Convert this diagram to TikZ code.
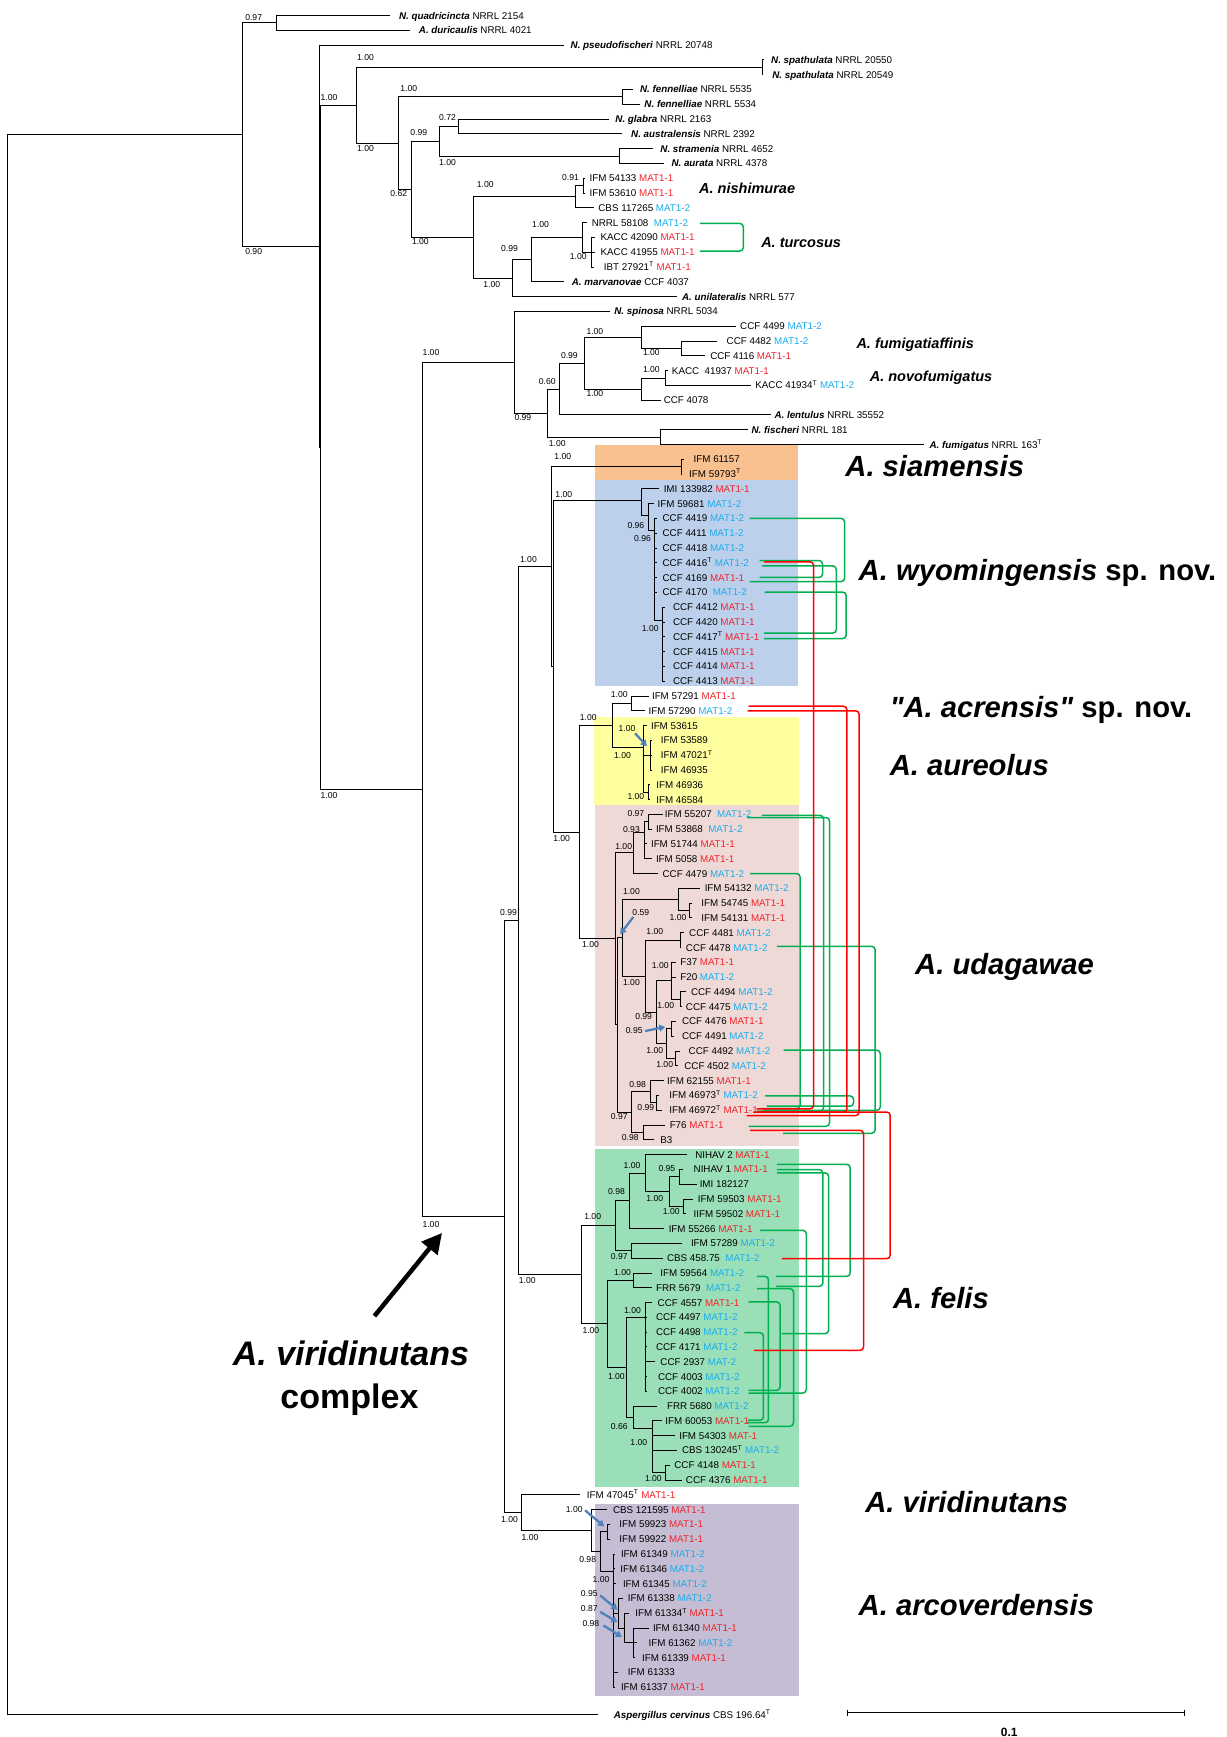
\documentclass[tikz,border=0pt]{standalone}
\usepackage{fontspec}
\setmainfont{Liberation Sans}
\newfontfamily\qfont{Liberation Sans}
\usetikzlibrary{arrows.meta}
\definecolor{matred}{HTML}{F0242B}
\definecolor{matblue}{HTML}{1AADEB}
\definecolor{cgreen}{HTML}{00B050}
\definecolor{cred}{HTML}{FF0000}
\definecolor{bxor}{HTML}{F9C18F}
\definecolor{bxbl}{HTML}{BCD0EC}
\definecolor{bxye}{HTML}{FFFF9F}
\definecolor{bxpk}{HTML}{EFD9D7}
\definecolor{bxgr}{HTML}{9ADFB8}
\definecolor{bxpu}{HTML}{C4BDD3}
\definecolor{arrblue}{HTML}{4F81BD}
\newcommand{\MOne}{\textcolor{matred}{MAT1-1}}
\newcommand{\MTwo}{\textcolor{matblue}{MAT1-2}}
\newcommand{\Tsup}{\textsuperscript{T}}
\newcommand{\bi}[1]{\textbf{\textit{#1}}}
\newcommand{\Nd}[3]{\coordinate (#1) at (#2,{14+13.354*(#3)});}
\newcommand{\Lf}[4]{\coordinate (t#1) at (#2,{14+13.354*(#1)});\node[leaf] (L#1) at (#3,{14+13.354*(#1)}) {#4};}
\newcommand{\Brs}[2]{\foreach \chn in {#2} {\draw[tree] (#1) |- (\chn);}}
\newcounter{svc}
\newcommand{\Sv}[3]{\stepcounter{svc}\node[sv] (sv\arabic{svc}) at (#1,#2) {#3};}
\newcommand{\Con}[7]{\coordinate (#1a) at (#3,#4);\coordinate (#1b) at (#6,#7);\draw[#2] (#1a) -- (#5,#4) -- (#5,#7) -- (#1b);}
\newcommand{\Barr}[5]{\coordinate (#1a) at (#2,#3);\coordinate (#1b) at (#4,#5);\draw[barrow] (#1a) -- (#1b);}
\begin{document}
\begin{tikzpicture}[x=1.1075pt,y=-1.1075pt,
  tree/.style={line width=0.9pt,black},
  leaf/.style={font=\fontsize{9.8}{10}\selectfont,inner sep=0pt,anchor=base west,yshift=-3.5pt},
  sv/.style={font=\fontsize{8.6}{9}\selectfont,inner sep=0pt,anchor=center},
  splab/.style={font=\fontsize{29.2}{30}\selectfont\bfseries,inner sep=0pt,anchor=base west,yshift=-10.4pt},
  smlab/.style={font=\fontsize{14.5}{16}\selectfont\bfseries\itshape,inner sep=0pt,anchor=base west,yshift=-5.2pt},
  gline/.style={cgreen,line width=1.5pt,rounded corners=3.5pt},
  rline/.style={cred,line width=1.5pt,rounded corners=3.5pt},
  barrow/.style={arrblue,line width=2.3pt,-{Triangle[length=6pt,width=7pt]}}]
\fill[white] (0,0) rectangle (1107,1568);
\useasboundingbox (0,0) rectangle (1107,1568);
% clade boxes
\fill[bxor] (537,402) rectangle (720,433);
\fill[bxbl] (537,433) rectangle (720,619.5);
\fill[bxye] (536.5,647.5) rectangle (721.5,727);
\fill[bxpk] (537,727) rectangle (721.5,1034.5);
\fill[bxgr] (537,1037) rectangle (721.5,1342.4);
\fill[bxpu] (537,1357.4) rectangle (721.5,1531);
% internal nodes
\Nd{R}{7}{61.46}
\Nd{A}{219}{8.05}
\Nd{Q}{250}{0.5}
\Nd{B}{288}{15.6}
\Nd{Bp}{289.5}{29.19}
\Nd{C}{322}{6.0625}
\Nd{S}{688}{3.5}
\Nd{P}{359.5}{8.625}
\Nd{FeN}{561.5}{5.5}
\Nd{P2}{371}{11.75}
\Nd{GA}{397}{8.5}
\Nd{Gl}{413.6}{7.5}
\Nd{St}{559.5}{9.5}
\Nd{N}{427.4}{15}
\Nd{nish}{519.2}{12.25}
\Nd{nishs}{526.7}{11.5}
\Nd{U}{462.6}{17.75}
\Nd{T}{480}{16.5}
\Nd{turc}{526.1}{15}
\Nd{Ks}{534.2}{16}
\Nd{D}{381}{52.32}
\Nd{F0}{464}{23.4375}
\Nd{F1}{494}{26.875}
\Nd{F2}{505}{25.25}
\Nd{F3}{528}{23.5}
\Nd{F4}{579}{21.75}
\Nd{F4s}{615}{22.5}
\Nd{Fnov}{579}{25.25}
\Nd{Kc}{600.5}{24.5}
\Nd{Fis}{596.4}{28.5}
\Nd{K}{455}{81.2}
\Nd{K1}{468}{61.19}
\Nd{M1}{498}{37.25}
\Nd{Siam}{615}{30.5}
\Nd{M1p}{499.5}{44.0}
\Nd{W1}{579}{32.8}
\Nd{W2}{585}{33.77}
\Nd{W3}{590.6}{34.79}
\Nd{W4}{598}{40.87}
\Nd{M3}{523}{55.21}
\Nd{Acp}{553}{48}
\Nd{Acr}{570}{46.5}
\Nd{Au}{580.7}{49.5}
\Nd{Au1}{587.5}{50}
\Nd{Au2}{585}{52.5}
\Nd{Ud}{555.3}{62.42}
\Nd{Ua}{571.9}{56.6}
\Nd{Ub}{581.5}{55.2}
\Nd{Uc}{585.4}{54.5}
\Nd{Udp}{557.5}{68.23}
\Nd{U59}{562.2}{62.34}
\Nd{U54}{612.5}{59.75}
\Nd{U54b}{622.4}{60.5}
\Nd{U81}{582.4}{64.94}
\Nd{U4481}{614}{62.5}
\Nd{Ux}{593}{67.375}
\Nd{Uff}{606.5}{65.25}
\Nd{U94}{614}{66.5}
\Nd{Ug}{602}{69.5}
\Nd{Ug1}{606.5}{68.5}
\Nd{Ug2}{609.5}{70.5}
\Nd{Bcl}{570.4}{74.125}
\Nd{Ba}{587}{72.75}
\Nd{Bb}{593}{73.5}
\Nd{Bc}{580.9}{75.5}
\Nd{Fel}{525}{85.125}
\Nd{fla}{555.3}{81.81}
\Nd{flb}{568}{80.125}
\Nd{flc}{582.4}{78.25}
\Nd{fld}{604.4}{79.5}
\Nd{fle}{613.4}{78.5}
\Nd{flf}{617}{80.5}
\Nd{flg}{570.4}{83.5}
\Nd{flh}{548.4}{88.44}
\Nd{fli}{571.9}{85.5}
\Nd{flj}{565.8}{91.375}
\Nd{flk}{582.4}{88}
\Nd{fll}{571.9}{94.75}
\Nd{flm}{589.3}{95.5}
\Nd{fln}{600.5}{98.5}
\Nd{K2}{471}{101.21}
\Nd{Arc}{534.2}{102.43}
\Nd{Arc2}{542.4}{103.85}
\Nd{Arc3}{548.4}{102.5}
\Nd{Arc4}{553.8}{105.2}
\Nd{Arc5}{558.3}{108}
\Nd{Arc6}{563.4}{109}
\Nd{Arc7}{571.9}{110}
% leaves
\Lf{0}{352}{360}{\bi{N. quadricincta} NRRL 2154}
\Lf{1}{370}{378}{\bi{A. duricaulis} NRRL 4021}
\Lf{2}{509}{515}{\bi{N. pseudofischeri} NRRL 20748}
\Lf{3}{690}{696}{\bi{N. spathulata} NRRL 20550}
\Lf{4}{689}{697}{\bi{N. spathulata} NRRL 20549}
\Lf{5}{571.6}{577.6}{\bi{N. fennelliae} NRRL 5535}
\Lf{6}{577.6}{581.6}{\bi{N. fennelliae} NRRL 5534}
\Lf{7}{549.4}{555.4}{\bi{N. glabra} NRRL 2163}
\Lf{8}{561.5}{569.6}{\bi{N. australensis} NRRL 2392}
\Lf{9}{589.6}{596}{\bi{N. stramenia} NRRL 4652}
\Lf{10}{599.5}{606}{\bi{N. aurata} NRRL 4378}
\Lf{11}{528}{532}{IFM 54133 \MOne}
\Lf{12}{528}{532}{IFM 53610 \MOne}
\Lf{13}{536}{540}{CBS 117265 \MTwo}
\Lf{14}{530}{534}{NRRL 58108\ \ \MTwo}
\Lf{15}{537}{542}{KACC 42090 \MOne}
\Lf{16}{537}{542}{KACC 41955 \MOne}
\Lf{17}{536}{545}{IBT 27921\Tsup{} \MOne}
\Lf{18}{509}{516}{\bi{A. marvanovae} CCF 4037}
\Lf{19}{611}{615.5}{\bi{A. unilateralis} NRRL 577}
\Lf{20}{550.4}{554.4}{\bi{N. spinosa} NRRL 5034}
\Lf{21}{664.6}{668}{CCF 4499 \MTwo}
\Lf{22}{647}{655.8}{CCF 4482 \MTwo}
\Lf{23}{636.8}{641}{CCF 4116 \MOne}
\Lf{24}{603}{606.4}{KACC\ \ 41937 \MOne}
\Lf{25}{678.3}{681.7}{KACC 41934\Tsup{} \MTwo}
\Lf{26}{597}{599}{CCF 4078}
\Lf{27}{695.6}{699}{\bi{A. lentulus} NRRL 35552}
\Lf{28}{674.8}{678.3}{\bi{N. fischeri} NRRL 181}
\Lf{29}{833.8}{839}{\bi{A. fumigatus} NRRL 163\Tsup}
\Lf{30}{617}{626}{IFM 61157}
\Lf{31}{615.5}{622}{IFM 59793\Tsup}
\Lf{32}{595.3}{599}{IMI 133982 \MOne}
\Lf{33}{590.5}{593.5}{IFM 59681 \MTwo}
\Lf{34}{593}{598}{CCF 4419 \MTwo}
\Lf{35}{593}{598}{CCF 4411 \MTwo}
\Lf{36}{593}{598}{CCF 4418 \MTwo}
\Lf{37}{593}{598}{CCF 4416\Tsup{} \MTwo}
\Lf{38}{593}{598}{CCF 4169 \MOne}
\Lf{39}{593}{598}{CCF 4170\ \ \MTwo}
\Lf{40}{600}{607.4}{CCF 4412 \MOne}
\Lf{41}{600}{607.4}{CCF 4420 \MOne}
\Lf{42}{600}{607.4}{CCF 4417\Tsup{} \MOne}
\Lf{43}{600}{607.4}{CCF 4415 \MOne}
\Lf{44}{600}{607.4}{CCF 4414 \MOne}
\Lf{45}{600}{607.4}{CCF 4413 \MOne}
\Lf{46}{585.4}{588.4}{IFM 57291 \MOne}
\Lf{47}{582.4}{585.4}{IFM 57290 \MTwo}
\Lf{48}{584}{587.5}{IFM 53615}
\Lf{49}{589}{596.5}{IFM 53589}
\Lf{50}{589}{596.5}{IFM 47021\Tsup}
\Lf{51}{589}{596.5}{IFM 46935}
\Lf{52}{587}{592.3}{IFM 46936}
\Lf{53}{587}{592.3}{IFM 46584}
\Lf{54}{598.3}{600}{IFM 55207\ \ \MTwo}
\Lf{55}{588.4}{592}{IFM 53868\ \ \MTwo}
\Lf{56}{584}{587.5}{IFM 51744 \MOne}
\Lf{57}{588.4}{592}{IFM 5058 \MOne}
\Lf{58}{594.4}{598}{CCF 4479 \MTwo}
\Lf{59}{632}{636}{IFM 54132 \MTwo}
\Lf{60}{625}{633}{IFM 54745 \MOne}
\Lf{61}{625}{633}{IFM 54131 \MOne}
\Lf{62}{617}{622}{CCF 4481 \MTwo}
\Lf{63}{615}{619}{CCF 4478 \MTwo}
\Lf{64}{610}{614}{F37 \MOne}
\Lf{65}{610}{614}{F20 \MTwo}
\Lf{66}{619}{623.6}{CCF 4494 \MTwo}
\Lf{67}{616}{619}{CCF 4475 \MTwo}
\Lf{68}{610}{615.5}{CCF 4476 \MOne}
\Lf{69}{608}{615.5}{CCF 4491 \MTwo}
\Lf{70}{614}{621.5}{CCF 4492 \MTwo}
\Lf{71}{612}{617.6}{CCF 4502 \MTwo}
\Lf{72}{599}{602}{IFM 62155 \MOne}
\Lf{73}{595.3}{604}{IFM 46973\Tsup{} \MTwo}
\Lf{74}{597.4}{604}{IFM 46972\Tsup{} \MOne}
\Lf{75}{600.5}{604.4}{F76 \MOne}
\Lf{76}{590}{596}{B3}
\Lf{77}{620}{627.5}{NIHAV 2 \MOne}
\Lf{78}{616.4}{626}{NIHAV 1 \MOne}
\Lf{79}{629}{631.5}{IMI 182127}
\Lf{80}{625.4}{629.7}{IFM 59503 \MOne}
\Lf{81}{619}{626}{IIFM 59502 \MOne}
\Lf{82}{599}{603.5}{IFM 55266 \MOne}
\Lf{83}{615.5}{623.6}{IFM 57289 \MTwo}
\Lf{84}{598.3}{602}{CBS 458.75\ \ \MTwo}
\Lf{85}{588.4}{596}{IFM 59564 \MTwo}
\Lf{86}{588.4}{592}{FRR 5679\ \ \MTwo}
\Lf{87}{588.4}{593.5}{CCF 4557 \MOne}
\Lf{88}{584}{592}{CCF 4497 \MTwo}
\Lf{89}{584}{592}{CCF 4498 \MTwo}
\Lf{90}{584}{592}{CCF 4171 \MTwo}
\Lf{91}{591.4}{596}{CCF 2937 \textcolor{matblue}{MAT-2}}
\Lf{92}{584}{593.8}{CCF 4003 \MTwo}
\Lf{93}{584}{593.8}{CCF 4002 \MTwo}
\Lf{94}{593}{602}{FRR 5680 \MTwo}
\Lf{95}{597.4}{600.5}{IFM 60053 \MOne}
\Lf{96}{609.5}{613}{IFM 54303 \textcolor{matred}{MAT-1}}
\Lf{97}{611}{615.5}{CBS 130245\Tsup{} \MTwo}
\Lf{98}{605}{608.6}{CCF 4148 \MOne}
\Lf{99}{615.5}{619}{CCF 4376 \MOne}
\Lf{100}{523.7}{529.7}{IFM 47045\Tsup{} \MOne}
\Lf{101}{547.8}{553.2}{CBS 121595 \MOne}
\Lf{102}{550.8}{559}{IFM 59923 \MOne}
\Lf{103}{550.8}{559}{IFM 59922 \MOne}
\Lf{104}{555.3}{560.4}{IFM 61349 \MTwo}
\Lf{105}{555.3}{559.8}{IFM 61346 \MTwo}
\Lf{106}{556.5}{562.2}{IFM 61345 \MTwo}
\Lf{107}{562.8}{566.7}{IFM 61338 \MTwo}
\Lf{108}{567.4}{573.4}{IFM 61334\Tsup{} \MOne}
\Lf{109}{585.4}{589.3}{IFM 61340 \MOne}
\Lf{110}{575}{585.4}{IFM 61362 \MTwo}
\Lf{111}{573.4}{579.4}{IFM 61339 \MOne}
\Lf{112}{558.3}{566.7}{IFM 61333}
\Lf{113}{555.3}{560.4}{IFM 61337 \MOne}
\coordinate (tcv) at (540,1548);
\node[leaf] (Lcv) at (554,1548) {\bi{Aspergillus cervinus} CBS 196.64\Tsup};
% branches
\Brs{R}{A,tcv}
\Brs{A}{Q,B}
\Brs{Q}{t0,t1}
\Brs{B}{t2,Bp}
\Brs{Bp}{C,D}
\Brs{C}{S,P}
\Brs{S}{t3,t4}
\Brs{P}{FeN,P2}
\Brs{FeN}{t5,t6}
\Brs{P2}{GA,N}
\Brs{GA}{Gl,St}
\Brs{Gl}{t7,t8}
\Brs{St}{t9,t10}
\Brs{N}{nish,U}
\Brs{nish}{nishs,t13}
\Brs{nishs}{t11,t12}
\Brs{U}{T,t19}
\Brs{T}{turc,t18}
\Brs{turc}{t14,Ks}
\Brs{Ks}{t15,t16,t17}
\Brs{D}{F0,K}
\Brs{F0}{t20,F1}
\Brs{F1}{F2,Fis}
\Brs{F2}{F3,t27}
\Brs{F3}{F4,Fnov}
\Brs{F4}{t21,F4s}
\Brs{F4s}{t22,t23}
\Brs{Fnov}{Kc,t26}
\Brs{Kc}{t24,t25}
\Brs{Fis}{t28,t29}
\Brs{K}{K1,K2}
\Brs{K1}{M1,Fel}
\Brs{M1}{Siam,M1p}
\Brs{Siam}{t30,t31}
\Brs{M1p}{W1,M3}
\Brs{W1}{t32,W2}
\Brs{W2}{t33,W3}
\Brs{W3}{t34,t35,t36,t37,t38,t39,W4}
\Brs{W4}{t40,t41,t42,t43,t44,t45}
\Brs{M3}{Acp,Ud}
\Brs{Acp}{Acr,Au}
\Brs{Acr}{t46,t47}
\Brs{Au}{t48,Au1,Au2}
\Brs{Au1}{t49,t50,t51}
\Brs{Au2}{t52,t53}
\Brs{Ud}{Ua,Udp}
\Brs{Ua}{Ub,t58}
\Brs{Ub}{Uc,t56,t57}
\Brs{Uc}{t54,t55}
\Brs{Udp}{U59,Bcl}
\Brs{U59}{U54,U81}
\Brs{U54}{t59,U54b}
\Brs{U54b}{t60,t61}
\Brs{U81}{U4481,Ux}
\Brs{U4481}{t62,t63}
\Brs{Ux}{Uff,Ug}
\Brs{Uff}{t64,t65,U94}
\Brs{U94}{t66,t67}
\Brs{Ug}{Ug1,Ug2}
\Brs{Ug1}{t68,t69}
\Brs{Ug2}{t70,t71}
\Brs{Bcl}{Ba,Bc}
\Brs{Ba}{t72,Bb}
\Brs{Bb}{t73,t74}
\Brs{Bc}{t75,t76}
\Brs{Fel}{fla,flh}
\Brs{fla}{flb,flg}
\Brs{flb}{flc,t82}
\Brs{flc}{t77,fld}
\Brs{fld}{fle,flf}
\Brs{fle}{t78,t79}
\Brs{flf}{t80,t81}
\Brs{flg}{t83,t84}
\Brs{flh}{fli,flj}
\Brs{fli}{t85,t86}
\Brs{flj}{flk,fll}
\Brs{flk}{t87,t88,t89,t90,t91,t92,t93}
\Brs{fll}{t94,flm}
\Brs{flm}{t95,t96,t97,fln}
\Brs{fln}{t98,t99}
\Brs{K2}{t100,Arc}
\Brs{Arc}{t101,Arc2}
\Brs{Arc2}{Arc3,Arc4}
\Brs{Arc3}{t102,t103}
\Brs{Arc4}{t104,t105,t106,Arc5,t112,t113}
\Brs{Arc5}{t107,Arc6}
\Brs{Arc6}{t108,Arc7}
\Brs{Arc7}{t109,t110,t111}
% support values
\Sv{229}{16}{0.97}
\Sv{229}{227}{0.90}
\Sv{297}{88}{1.00}
\Sv{297}{718}{1.00}
\Sv{330}{52}{1.00}
\Sv{330}{134}{1.00}
\Sv{369}{80}{1.00}
\Sv{378}{120}{0.99}
\Sv{404}{106}{0.72}
\Sv{404}{147}{1.00}
\Sv{360}{175}{0.62}
\Sv{379.5}{218}{1.00}
\Sv{438}{167}{1.00}
\Sv{515}{160}{0.91}
\Sv{488}{203}{1.00}
\Sv{460}{224}{0.99}
\Sv{522}{232}{1.00}
\Sv{444}{257}{1.00}
\Sv{389}{318}{1.00}
\Sv{472}{377}{0.99}
\Sv{494}{344}{0.60}
\Sv{514}{321}{0.99}
\Sv{537}{299}{1.00}
\Sv{588}{318}{1.00}
\Sv{588}{334}{1.00}
\Sv{537}{355}{1.00}
\Sv{503}{400}{1.00}
\Sv{389}{1105}{1.00}
\Sv{459}{824}{0.99}
\Sv{477}{505}{1.00}
\Sv{476}{1156}{1.00}
\Sv{460}{1372}{1.00}
\Sv{508}{412}{1.00}
\Sv{509}{446}{1.00}
\Sv{574}{474}{0.96}
\Sv{580}{486}{0.96}
\Sv{587}{567}{1.00}
\Sv{531}{648}{1.00}
\Sv{559}{627}{1.00}
\Sv{566}{658}{1.00}
\Sv{562}{682}{1.00}
\Sv{574}{719}{1.00}
\Sv{507}{757}{1.00}
\Sv{574}{734}{0.97}
\Sv{570}{749}{0.93}
\Sv{563}{764.5}{1.00}
\Sv{570}{805}{1.00}
\Sv{578.5}{824}{0.59}
\Sv{612}{828}{1.00}
\Sv{591}{841}{1.00}
\Sv{533}{853}{1.00}
\Sv{596}{872}{1.00}
\Sv{570}{887}{1.00}
\Sv{601}{908}{1.00}
\Sv{581}{918}{0.99}
\Sv{572.6}{930.7}{0.95}
\Sv{591}{948.7}{1.00}
\Sv{600}{960.7}{1.00}
\Sv{575.6}{978.8}{0.98}
\Sv{583}{1000}{0.99}
\Sv{559}{1008.3}{0.97}
\Sv{569}{1027}{0.98}
\Sv{535}{1098.6}{1.00}
\Sv{556.5}{1076}{0.98}
\Sv{570.5}{1052}{1.00}
\Sv{602}{1055}{0.95}
\Sv{591}{1082}{1.00}
\Sv{606}{1094}{1.00}
\Sv{559}{1134.7}{0.97}
\Sv{562}{1149}{1.00}
\Sv{533.4}{1201.5}{1.00}
\Sv{571}{1183}{1.00}
\Sv{556.4}{1243}{1.00}
\Sv{559}{1288}{0.66}
\Sv{576.7}{1302.6}{1.00}
\Sv{589.8}{1334.8}{1.00}
\Sv{518.4}{1362.6}{1.00}
\Sv{478.4}{1387.5}{1.00}
\Sv{530.5}{1408}{0.98}
\Sv{542.5}{1426}{1.00}
\Sv{532}{1438.7}{0.95}
\Sv{532}{1452.2}{0.87}
\Sv{533.4}{1465.7}{0.98}
% blue arrows
\Barr{ba1}{573.3}{662}{584}{673.6}
\Barr{ba2}{571.8}{827.7}{559.8}{843.3}
\Barr{ba3}{582.4}{930.7}{600.5}{927}
\Barr{ba4}{528.2}{1363.4}{545.4}{1377.9}
\Barr{ba5}{541.8}{1440.2}{557.4}{1453.1}
\Barr{ba6}{541.8}{1455}{557.4}{1464.3}
\Barr{ba7}{544.8}{1467.3}{561.3}{1477.7}
% green connectors
\Con{gt}{gline}{632}{201.7}{671}{632}{226.6}
\Con{g1}{gline}{676.6}{468}{762.4}{676.6}{525}
\Con{g2}{gline}{685.6}{506}{742.5}{685.6}{521.3}
\Con{g3}{gline}{687.7}{510.8}{754.9}{689.8}{571.5}
\Con{g4}{gline}{690.2}{534.6}{763.9}{689.8}{576.4}
\Con{g5}{gline}{687.7}{736}{743.4}{683}{1003}
\Con{g6}{gline}{674.4}{738}{748.8}{675.7}{1016.7}
\Con{g7}{gline}{677}{788.6}{722.3}{687.7}{1000.8}
\Con{g8}{gline}{701.3}{854.2}{790}{707}{1023}
\Con{g9}{gline}{707.3}{948}{794.6}{689.2}{1002.3}
\Con{g10}{gline}{690.7}{989.3}{770.5}{692.2}{998.6}
\Con{g11}{gline}{701.3}{1051}{767.5}{700.7}{1152.2}
\Con{g12}{gline}{701.3}{1055.8}{742.8}{700.7}{1161.2}
\Con{g13}{gline}{701.3}{1058.8}{748}{705.8}{1203.9}
\Con{g14}{gline}{686.2}{1110.6}{727.8}{675.7}{1257.5}
\Con{g15}{gline}{683.2}{1152.2}{693.7}{674.2}{1284.3}
\Con{g16}{gline}{683.2}{1163.3}{716.3}{675.7}{1287.5}
\Con{g17}{gline}{675.7}{1175.3}{704.3}{675.7}{1255}
\Con{g18}{gline}{672}{1203}{689.2}{675}{1282}
% red connectors
\Con{r1}{rline}{689.8}{507.1}{734.4}{683}{1001}
\Con{r2}{rline}{675.7}{637.5}{764.5}{680}{1004}
\Con{r3}{rline}{674.8}{641.7}{775.6}{674}{1007}
\Con{r4}{rline}{686}{1003.8}{803.6}{705.8}{1136.2}
\Con{r5}{rline}{677.2}{1020.3}{779.5}{680.8}{1219}
% species labels
\node[smlab] (ln1) at (631,170) {A. nishimurae};
\node[smlab] (ln2) at (687,219) {A. turcosus};
\node[smlab] (ln3) at (773,310) {A. fumigatiaffinis};
\node[smlab] (ln4) at (785,340) {A. novofumigatus};
\node[splab] (lb1) at (763,421) {\itshape A. siamensis};
\node[splab] (lb2) at (775,515) {\itshape A. wyomingensis\upshape{} sp. nov.};
\node[splab] (lb3) at (803,638) {{\qfont\bfseries\itshape "A. acrensis"}\upshape{} sp. nov.};
\node[splab] (lb4) at (803,691) {\itshape A. aureolus};
\node[splab] (lb5) at (826,870) {\itshape A. udagawae};
\node[splab] (lb6) at (806,1172) {\itshape A. felis};
\node[splab] (lb7) at (781,1356) {\itshape A. viridinutans};
\node[splab] (lb8) at (775,1449) {\itshape A. arcoverdensis};
\node[font=\fontsize{34}{36}\selectfont\bfseries\itshape,inner sep=0pt,anchor=base west,yshift=-12.2pt] (cx1) at (210,1222) {A. viridinutans};
\node[font=\fontsize{34}{36}\selectfont\bfseries,inner sep=0pt,anchor=base west,yshift=-12.2pt] (cx2) at (253,1260) {complex};
% big arrow
\coordinate (bgA) at (338,1188);
\coordinate (bgB) at (399,1113);
\draw[line width=4.5pt,-{Triangle[length=20pt,width=20pt]}] (bgA) -- (bgB);
% scale bar
\coordinate (sbL) at (764.6,1546);
\coordinate (sbR) at (1069.5,1546);
\draw[line width=1.3pt] (sbL) -- (sbR);
\draw[line width=1pt] ([yshift=3pt]sbL) -- ([yshift=-3pt]sbL);
\draw[line width=1pt] ([yshift=3pt]sbR) -- ([yshift=-3pt]sbR);
\node[font=\fontsize{12}{13}\selectfont\bfseries,inner sep=0pt] (sbt) at (911,1564) {0.1};
\end{tikzpicture}
\end{document}
